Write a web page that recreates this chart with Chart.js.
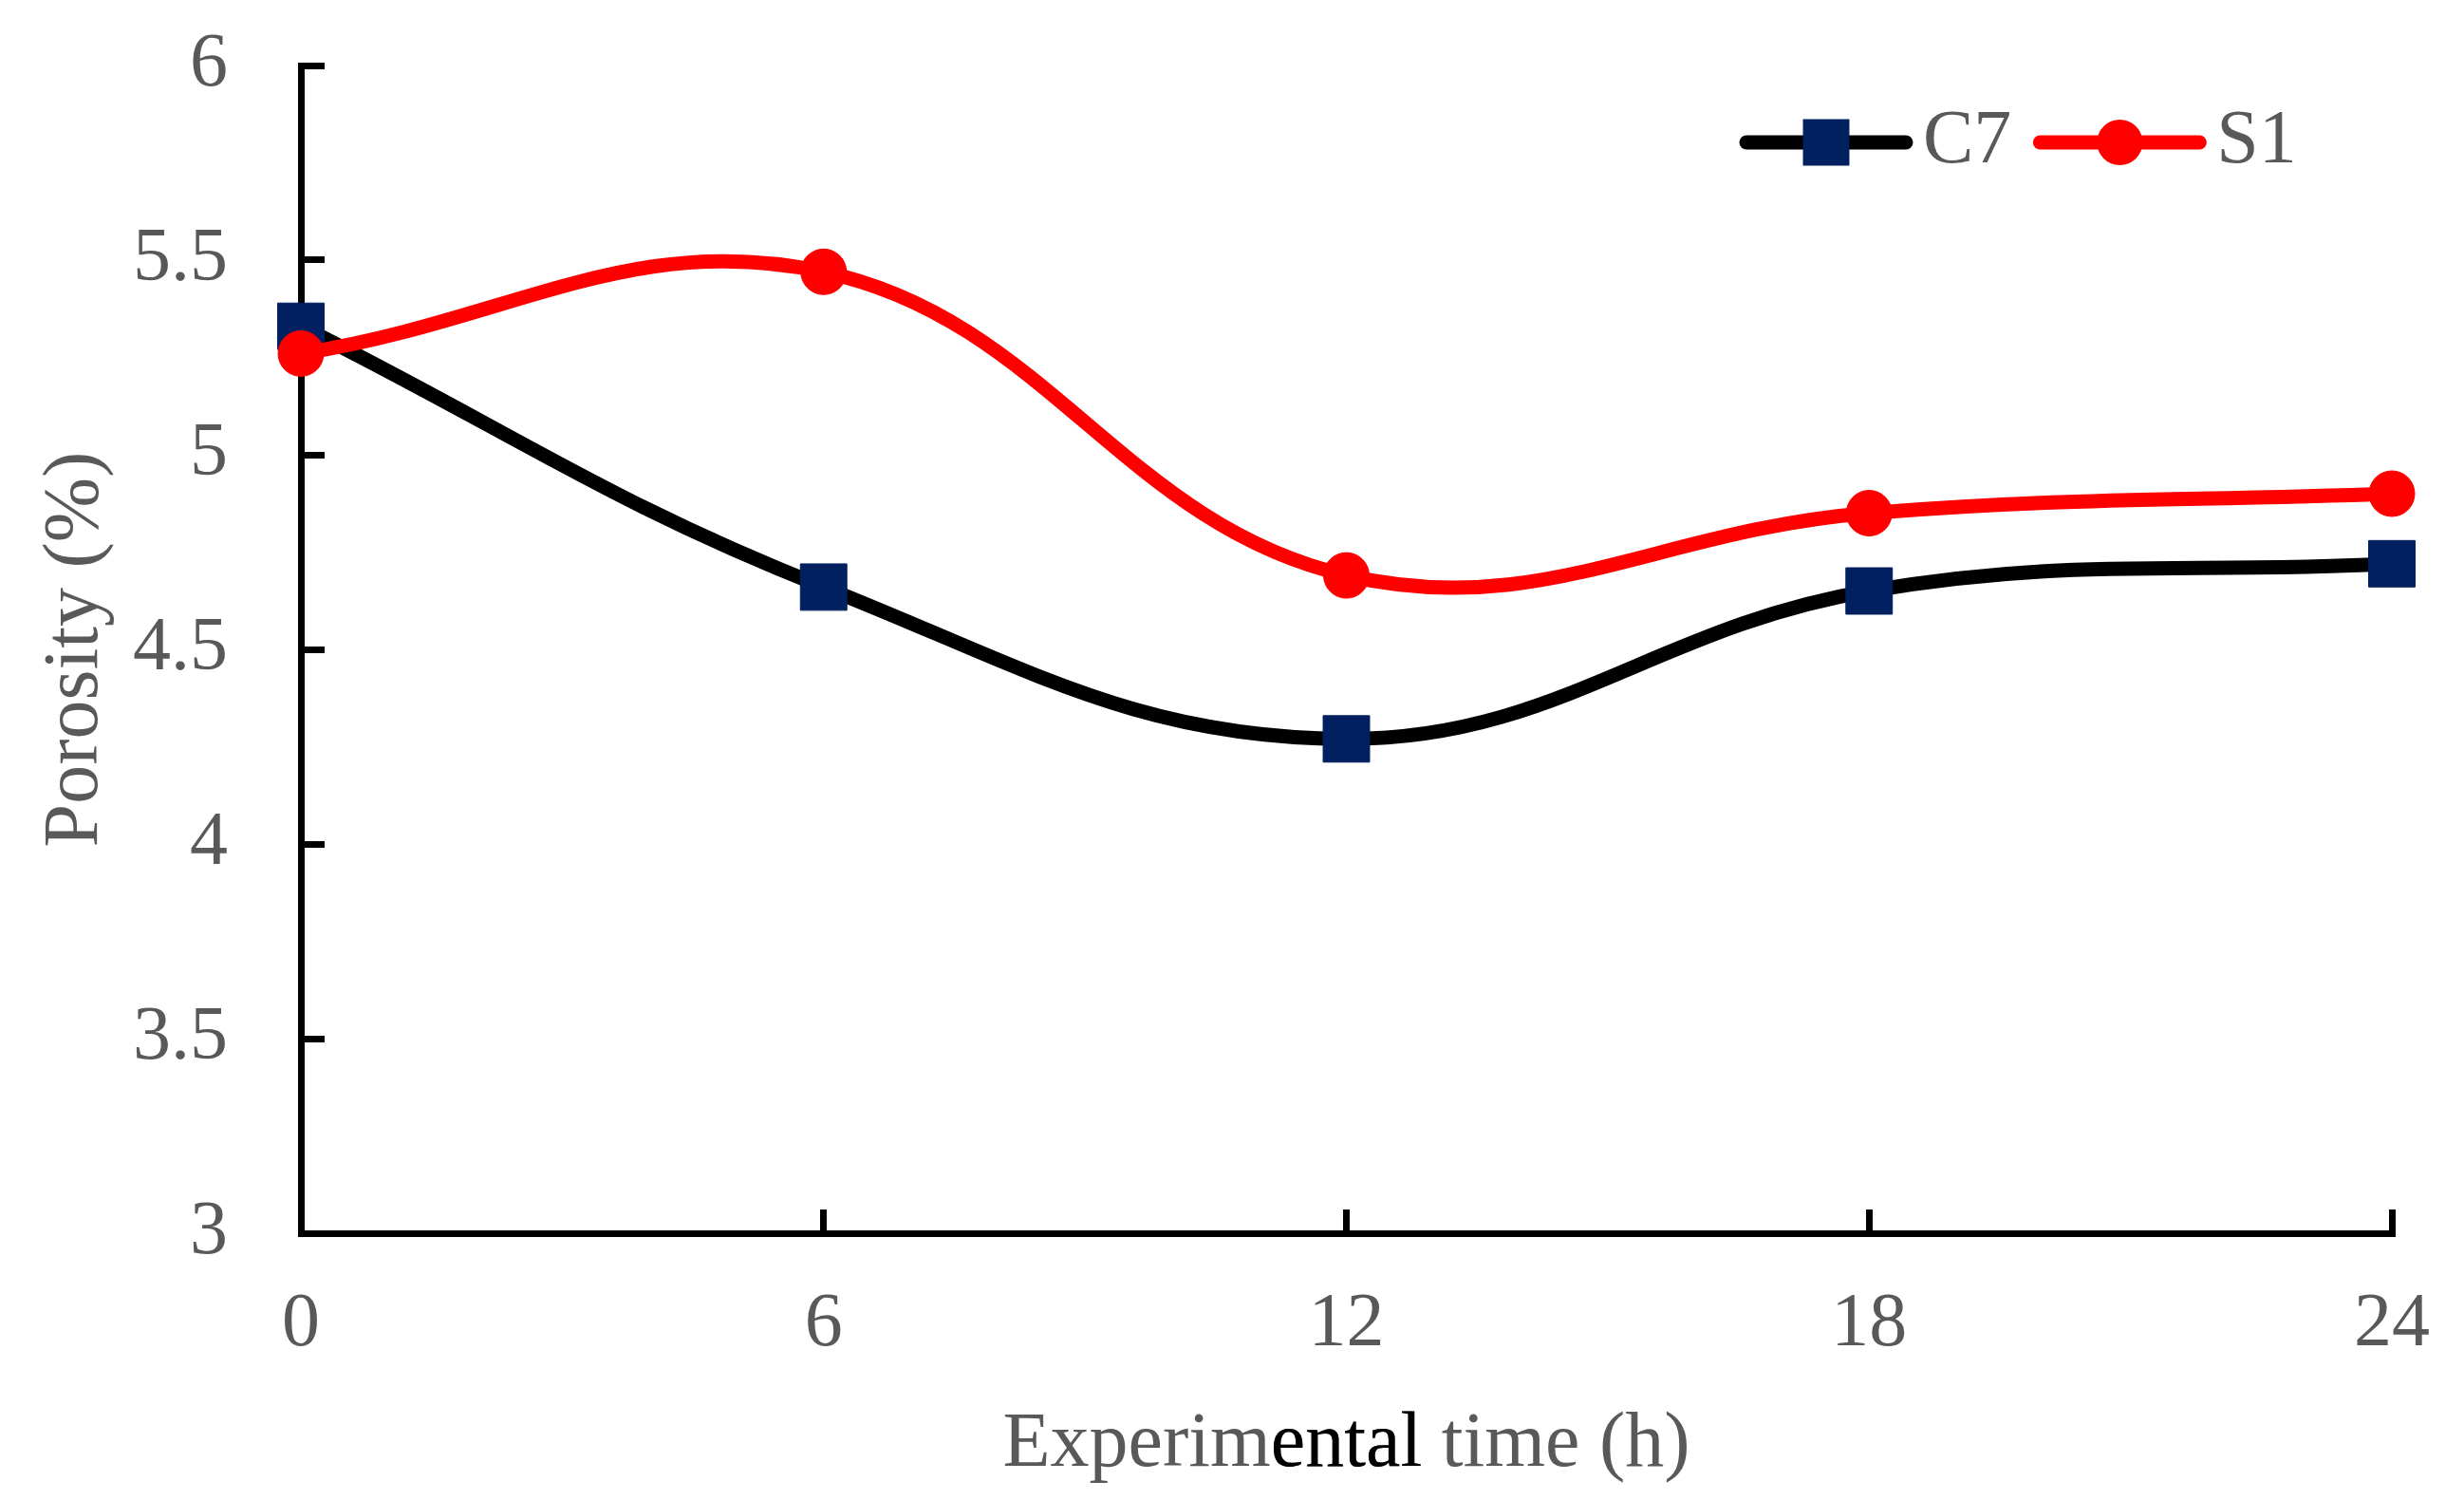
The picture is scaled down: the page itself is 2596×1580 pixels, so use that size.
<!DOCTYPE html>
<html>
<head>
<meta charset="utf-8">
<title>Porosity vs experimental time</title>
<script src="https://cdn.jsdelivr.net/npm/chart.js@4/dist/chart.umd.min.js"></script>
<style>
  html, body { margin: 0; padding: 0; background: #fff; }
  #wrap { width: 2596px; height: 1580px; }
</style>
</head>
<body>
<div id="wrap"><canvas id="porosityChart" width="2596" height="1580"></canvas></div>
<script>
// values
const timeH = [0, 6, 12, 18, 24];
const c7Porosity = [5.33, 4.66, 4.27, 4.65, 4.72];
const s1Porosity = [5.26, 5.47, 4.69, 4.85, 4.90];
const seriesNames = ['C7', 'S1'];

const greyText = '#595959';
const serif = '"Liberation Serif", "Times New Roman", serif';

function toPoints(xs, ys) {
    return xs.map((x, i) => ({ x: x, y: ys[i] }));
}

// stop chart.js from pushing the plot in for overhanging tick labels
function noLabelPadding(scale) {
    scale.paddingTop = 0;
    scale.paddingBottom = 0;
    scale.paddingLeft = 0;
    scale.paddingRight = 0;
}

// legend drawn as line + marker, like the office-style legend in the figure
const lineLegend = {
    id: 'lineLegend',
    afterDraw(chart) {
        const ctx = chart.ctx;
        let x = 1840;
        const y = 150;
        const lineLen = 168;
        ctx.save();
        ctx.font = '80px ' + serif;
        ctx.textBaseline = 'middle';
        chart.data.datasets.forEach(ds => {
            ctx.strokeStyle = ds.borderColor;
            ctx.lineWidth = ds.borderWidth;
            ctx.lineCap = 'round';
            ctx.beginPath();
            ctx.moveTo(x, y);
            ctx.lineTo(x + lineLen, y);
            ctx.stroke();
            const cx = x + lineLen / 2;
            ctx.fillStyle = ds.pointBackgroundColor;
            ctx.beginPath();
            if (ds.pointStyle === 'rect') {
                const h = ds.pointRadius * Math.SQRT1_2;
                ctx.rect(cx - h, y - h, 2 * h, 2 * h);
            } else {
                ctx.arc(cx, y, ds.pointRadius, 0, Math.PI * 2);
            }
            ctx.fill();
            ctx.fillStyle = greyText;
            const tx = x + lineLen + 18;
            ctx.fillText(ds.label, tx, y);
            x = tx + ctx.measureText(ds.label).width + 30;
        });
        ctx.restore();
    }
};

// the source figure has "ental" of the x title in black
const titleTint = {
    id: 'titleTint',
    afterDraw(chart) {
        const sc = chart.scales.x;
        const t = sc.options.title;
        const full = t.text;
        const ctx = chart.ctx;
        ctx.save();
        ctx.font = t.font.size + 'px ' + serif;
        ctx.textBaseline = 'middle';
        ctx.textAlign = 'left';
        const w = ctx.measureText(full).width;
        const cx = (sc.left + sc.right) / 2;
        const cy = sc.bottom - (t.font.size * 1.2) / 2 - t.padding.bottom;
        const start = cx - w / 2 + ctx.measureText('Experim').width;
        ctx.fillStyle = '#000';
        ctx.fillText('ental', start, cy);
        ctx.restore();
    }
};

new Chart(document.getElementById('porosityChart'), {
    type: 'line',
    data: {
        datasets: [
            {
                label: seriesNames[0],
                data: toPoints(timeH, c7Porosity),
                borderColor: '#000000',
                borderWidth: 15,
                pointStyle: 'rect',
                pointRadius: 34.6,
                pointBackgroundColor: '#002060',
                pointBorderColor: '#002060',
                pointBorderWidth: 1,
                order: 1
            },
            {
                label: seriesNames[1],
                data: toPoints(timeH, s1Porosity),
                borderColor: '#FF0000',
                borderWidth: 15,
                pointStyle: 'circle',
                pointRadius: 24,
                pointBackgroundColor: '#FF0000',
                pointBorderColor: '#FF0000',
                pointBorderWidth: 1,
                order: 0
            }
        ]
    },
    options: {
        responsive: false,
        devicePixelRatio: 1,
        animation: false,
        events: [],
        layout: { padding: { left: 0, right: 76, top: 69, bottom: 0 } },
        elements: {
            line: { tension: 0.4, borderCapStyle: 'round', borderJoinStyle: 'round', fill: false }
        },
        datasets: { line: { clip: false } },
        plugins: {
            legend: { display: false },
            tooltip: { enabled: false }
        },
        scales: {
            x: {
                type: 'linear',
                min: 0,
                max: 24,
                ticks: {
                    stepSize: 6,
                    padding: 74,
                    color: greyText,
                    font: { family: serif, size: 80 }
                },
                grid: {
                    display: true,
                    drawOnChartArea: false,
                    drawTicks: true,
                    tickLength: -25,
                    tickWidth: 7,
                    tickColor: '#000'
                },
                border: { display: true, color: '#000', width: 7 },
                title: {
                    display: true,
                    text: 'Experimental time (h)',
                    color: greyText,
                    font: { family: serif, size: 82 },
                    padding: { top: 0, bottom: 8 }
                },
                afterFit(scale) {
                    scale.height = 281;
                    noLabelPadding(scale);
                }
            },
            y: {
                min: 3,
                max: 6,
                ticks: {
                    stepSize: 0.5,
                    padding: 102,
                    color: greyText,
                    font: { family: serif, size: 80 },
                    callback: v => String(Number(v))
                },
                grid: {
                    display: true,
                    drawOnChartArea: false,
                    drawTicks: true,
                    tickLength: -25,
                    tickWidth: 7,
                    tickColor: '#000'
                },
                border: { display: true, color: '#000', width: 7 },
                title: {
                    display: true,
                    text: 'Porosity (%)',
                    color: greyText,
                    font: { family: serif, size: 82 },
                    padding: { top: 31, bottom: 0 }
                },
                afterFit(scale) {
                    scale.width = 317;
                    noLabelPadding(scale);
                }
            }
        }
    },
    plugins: [lineLegend, titleTint]
});
</script>
</body>
</html>
